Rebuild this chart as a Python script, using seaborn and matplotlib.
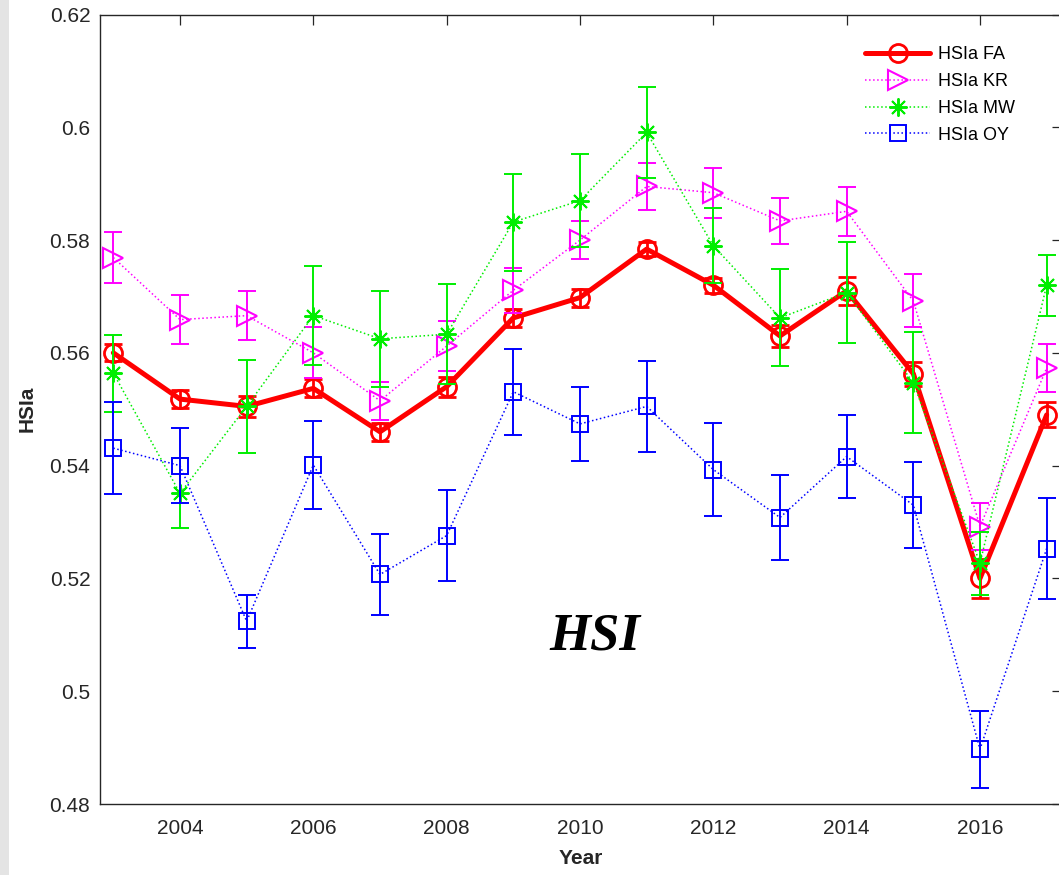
import numpy as np
import pandas as pd
import matplotlib
matplotlib.use("Agg")
import matplotlib.pyplot as plt
from matplotlib.lines import Line2D
from matplotlib.patches import Rectangle
import seaborn as sns

years = list(range(2003, 2018))

fa_mean = [0.5600, 0.5518, 0.5505, 0.5537, 0.5460, 0.5540, 0.5662, 0.5698,
           0.5784, 0.5720, 0.5630, 0.5710, 0.5563, 0.5200, 0.5490]
fa_err = [0.0015, 0.0016, 0.0018, 0.0016, 0.0016, 0.0018, 0.0016, 0.0016,
          0.0012, 0.0013, 0.0020, 0.0025, 0.0021, 0.0035, 0.0022]

kr_mean = [0.5769, 0.5659, 0.5666, 0.5600, 0.5515, 0.5612, 0.5711, 0.5800,
           0.5895, 0.5884, 0.5834, 0.5851, 0.5692, 0.5292, 0.5573]
kr_err = [0.0046, 0.0044, 0.0043, 0.0045, 0.0034, 0.0045, 0.0040, 0.0034,
          0.0041, 0.0044, 0.0041, 0.0043, 0.0047, 0.0042, 0.0043]

mw_mean = [0.5564, 0.5351, 0.5505, 0.5666, 0.5625, 0.5633, 0.5832, 0.5870,
           0.5991, 0.5790, 0.5662, 0.5707, 0.5547, 0.5227, 0.5720]
mw_err = [0.0068, 0.0062, 0.0082, 0.0088, 0.0085, 0.0089, 0.0086, 0.0082,
          0.0081, 0.0067, 0.0086, 0.0089, 0.0090, 0.0056, 0.0054]

oy_mean = [0.5431, 0.5400, 0.5124, 0.5401, 0.5207, 0.5276, 0.5531, 0.5474,
           0.5505, 0.5393, 0.5308, 0.5416, 0.5330, 0.4897, 0.5253]
oy_err = [0.0081, 0.0067, 0.0047, 0.0078, 0.0071, 0.0080, 0.0076, 0.0065,
          0.0080, 0.0083, 0.0076, 0.0074, 0.0076, 0.0068, 0.0090]

series_names = ["HSIa FA", "HSIa KR", "HSIa MW", "HSIa OY"]
y_ticks = [0.48, 0.50, 0.52, 0.54, 0.56, 0.58, 0.60, 0.62]
y_tick_labels = ["0.48", "0.5", "0.52", "0.54", "0.56", "0.58", "0.6", "0.62"]
x_ticks = [2004, 2006, 2008, 2010, 2012, 2014, 2016]

sns.set_theme(style="white")
plt.rcParams["font.family"] = ["Liberation Sans", "DejaVu Sans"]

fig = plt.figure(figsize=(10.59, 8.75), dpi=100)
W, H = 1059, 875
# light grey strip along the left edge of the canvas
fig.patches.append(Rectangle((0, 0), 9 / W, 1, transform=fig.transFigure,
                             facecolor="#e4e4e4", edgecolor="none", zorder=-10))

ax = fig.add_axes([100 / W, 1 - 804 / H, (1062 - 100) / W, (804 - 14.5) / H])

styles = [
    dict(color="#ff0000", lw=3.6, ls="-", marker="o", ms=13, mew=2.0, elw=2.0),
    dict(color="#ff00ff", lw=1.1, ls=":", marker=">", ms=14, mew=1.5, elw=1.4),
    dict(color="#00ee00", lw=1.1, ls=":", marker=(8, 2, 0), ms=13, mew=1.4, elw=1.4),
    dict(color="#0000ff", lw=1.1, ls=":", marker="s", ms=11, mew=1.4, elw=1.4),
]
means = [fa_mean, kr_mean, mw_mean, oy_mean]
errs = [fa_err, kr_err, mw_err, oy_err]

handles = []
for i, (name, m, e, st) in enumerate(zip(series_names, means, errs, styles)):
    df = pd.DataFrame({"Year": years, "HSIa": m})
    sns.lineplot(data=df, x="Year", y="HSIa", ax=ax, color=st["color"],
                 linewidth=st["lw"], linestyle=st["ls"], marker=st["marker"],
                 markersize=st["ms"], markerfacecolor="none",
                 markeredgecolor=st["color"], markeredgewidth=st["mew"],
                 zorder=3 + 2 * i)
    ax.errorbar(years, m, yerr=e, fmt="none", ecolor=st["color"],
                elinewidth=st["elw"], capsize=6.5, capthick=st["elw"],
                zorder=3 + 2 * i)
    handles.append(Line2D([], [], color=st["color"], lw=st["lw"], ls=st["ls"],
                          marker=st["marker"], ms=st["ms"], mfc="none",
                          mec=st["color"], mew=st["mew"], label=name))

ax.set_xlim(2002.8, 2017.23)
ax.set_ylim(0.48, 0.62)
ax.set_xticks(x_ticks)
ax.set_xticklabels([str(t) for t in x_ticks])
ax.set_yticks(y_ticks)
ax.set_yticklabels(y_tick_labels)
ax.tick_params(direction="in", length=7, width=0.9, top=True, right=True,
               labelsize=15, colors="#262626")
ax.tick_params(axis="y", pad=7)
ax.tick_params(axis="x", pad=11)
ax.tick_params(axis="both", labelcolor="#262626")
for sp in ax.spines.values():
    sp.set_color("#262626")
    sp.set_linewidth(1.0)

ax.set_xlabel("Year", fontsize=15, fontweight="bold", color="#262626", labelpad=8)
ax.set_ylabel("HSIa", fontsize=15, fontweight="bold", color="#262626", labelpad=9)

ax.text(2010.22, 0.5097, "HSI", fontsize=38, fontweight="bold", fontstyle="italic",
        family=["Liberation Serif", "DejaVu Serif"], ha="center", va="center",
        color="black")

leg = ax.legend(handles=handles, loc="upper left",
                bbox_to_anchor=(865 / W, 1 - 46 / H), bbox_transform=fig.transFigure,
                frameon=False, fontsize=13, handlelength=3.6, handletextpad=0.45,
                labelspacing=0.55, borderpad=0, borderaxespad=0)
for t in leg.get_texts():
    t.set_color("black")

fig.savefig("out.png", dpi=100)
